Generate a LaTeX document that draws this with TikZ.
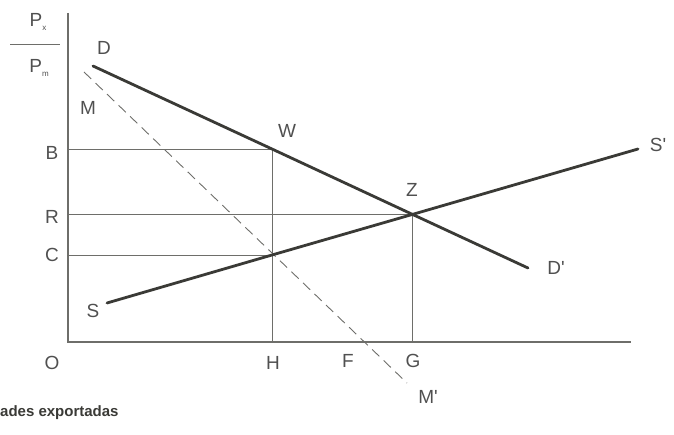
\documentclass[tikz,border=0pt]{standalone}
\usepackage{fontspec}
\setmainfont{Liberation Sans}
\usetikzlibrary{positioning}
\definecolor{ink}{HTML}{3A3A36}
\definecolor{grid}{HTML}{6E6E6A}
\definecolor{lbl}{HTML}{505050}
\tikzset{
  curve/.style={ink, line width=2.8pt, line cap=round},
  guide/.style={grid, line width=0.9pt},
  axis/.style={grid, line width=1.2pt},
  lab/.style={lbl, font=\fontsize{19}{19}\selectfont, inner sep=0pt}
}
\newcommand{\pind}[1]{\raisebox{-0.4ex}{\fontsize{8}{8}\selectfont #1}}
\begin{document}
\begin{tikzpicture}[x=1pt,y=-1pt]
        \useasboundingbox (0,0) rectangle (674,435);
        %axes
            \draw (68,13) coordinate(ytop)
                  (68,342) coordinate(o)
                  (631,342) coordinate(xend);
            \draw[axis] (ytop) -- (o) -- (xend);

        %points
            \draw (93,66) coordinate(d)
                  (528,268) coordinate(dp)
                  (107,303) coordinate(s)
                  (638,149) coordinate(sp)
                  (272,149) coordinate(w)
                  (412.5,214.4) coordinate(z)
                  (272,255) coordinate(c)
                  (84,72) coordinate(m)
                  (407,383) coordinate(mp)
                  (68,149) coordinate(b)
                  (68,214.4) coordinate(r)
                  (68,255) coordinate(cy)
                  (272,342) coordinate(h)
                  (412.5,342) coordinate(g);

        %guide lines
            \draw[guide] (b) -- (w) -- (h);
            \draw[guide] (r) -- (z) -- (g);
            \draw[guide] (cy) -- (c);
            \draw[guide, dash pattern=on 10pt off 6pt] (m) -- (mp);

        %demand and supply
            \draw[curve] (d) -- (w) -- (z) -- (dp);
            \draw[curve] (s) -- (c) -- (z) -- (sp);

        %labels
            \node[lab] (lpx) at (38,22) {P\pind{x}};
            \draw[grid, line width=0.8pt] (10,44) coordinate(bar1) -- (60,44) coordinate(bar2);
            \node[lab] (lpm) at (39,68) {P\pind{m}};
            \node[lab] (ld) at (104,48) {D};
            \node[lab] (lm) at (88,108) {M};
            \node[lab] (lw) at (287,131) {W};
            \node[lab] (lz) at (412,190) {Z};
            \node[lab] (lsp) at (658,145) {S\textquotesingle};
            \node[lab] (ldp) at (556,268) {D\textquotesingle};
            \node[lab] (ls) at (93,311) {S};
            \node[lab] (lb) at (52,153) {B};
            \node[lab] (lr) at (52,217) {R};
            \node[lab] (lc) at (52,255) {C};
            \node[lab] (lo) at (52,363) {O};
            \node[lab] (lh) at (273,363) {H};
            \node[lab] (lf) at (348,361) {F};
            \node[lab] (lg) at (413,361) {G};
            \node[lab] (lmp) at (428,397) {M\textquotesingle};
            \node[ink, font=\fontsize{15}{15}\selectfont\bfseries, inner sep=0pt, anchor=west] (ltxt) at (0,413) {ades exportadas};
        \end{tikzpicture}
\end{document}
